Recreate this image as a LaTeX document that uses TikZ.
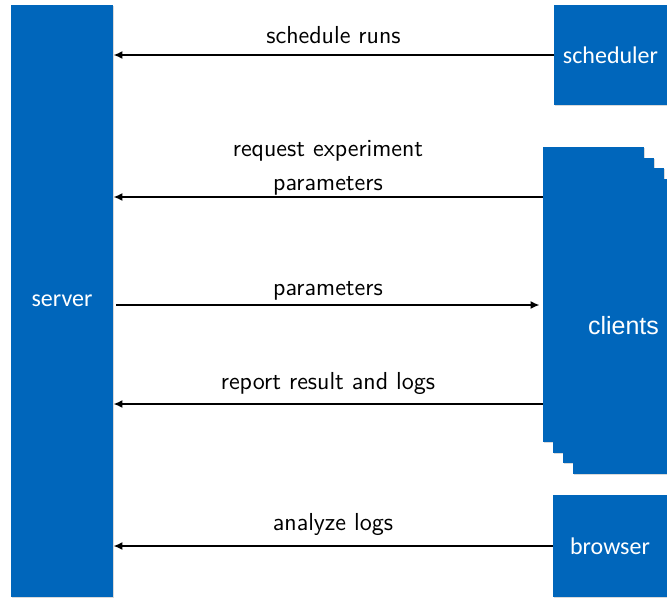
\documentclass[tikz,border=0pt]{standalone}
\usepackage{fontspec}
\newfontfamily\boxfont{Carlito}
\newfontfamily\thinfont{Liberation Sans}
\usetikzlibrary{arrows.meta,shadows}
\definecolor{boxblue}{RGB}{0,102,187}
\tikzset{
  block/.style={fill=boxblue, text=white, inner sep=0pt,
    drop shadow={shadow xshift=0.5pt, shadow yshift=-0.5pt, opacity=0.3},
    font=\boxfont\fontsize{12}{14}\selectfont},
  msg/.style={line width=0.9pt, -{Latex[length=4.5pt,width=4pt]}},
  lbl/.style={above=1.7pt, align=center, font=\sffamily\fontsize{12.3}{17}\selectfont},
}
\begin{document}
\begin{tikzpicture}[x=0.5pt,y=-0.5pt]
\useasboundingbox (0,0) rectangle (667,599);
\node(srv)[block, minimum width=51pt, minimum height=296pt] at (62,301) {server};
\node(sch)[block, minimum width=56.5pt, minimum height=50pt] at (610.5,55) {scheduler};
\node(c1)[block, minimum width=50.5pt, minimum height=147.5pt] at (593.5,294.5) {};
\node(c2)[block, minimum width=50.5pt, minimum height=147.5pt] at (603.5,305.5) {};
\node(c3)[block, minimum width=50.5pt, minimum height=147.5pt] at (613.5,315.5) {};
\node(c4)[block, minimum width=50.5pt, minimum height=147.5pt, font=\thinfont\fontsize{12.5}{15}\selectfont] at (623.5,326) {clients};
\node(brw)[block, minimum width=57pt, minimum height=51pt] at (610,546) {browser};
\coordinate (req) at (c1.west |- 0,197);
\coordinate (par) at (c1.west |- 0,305);
\coordinate (rep) at (c1.west |- 0,404);
\draw[msg] (sch) -- (sch -| srv.east) node[lbl, midway]{schedule runs};
\draw[msg] (req) -- (req -| srv.east) node[lbl, midway, yshift=-4.5pt]{request experiment\\parameters};
\draw[msg, shorten <=1.5pt, shorten >=1.5pt] (par -| srv.east) -- (par) node[lbl, midway, yshift=-3pt]{parameters};
\draw[msg] (rep) -- (rep -| srv.east) node[lbl, midway, yshift=-1pt]{report result and logs};
\draw[msg] (brw) -- (brw -| srv.east) node[lbl, midway]{analyze logs};
\end{tikzpicture}
\end{document}
